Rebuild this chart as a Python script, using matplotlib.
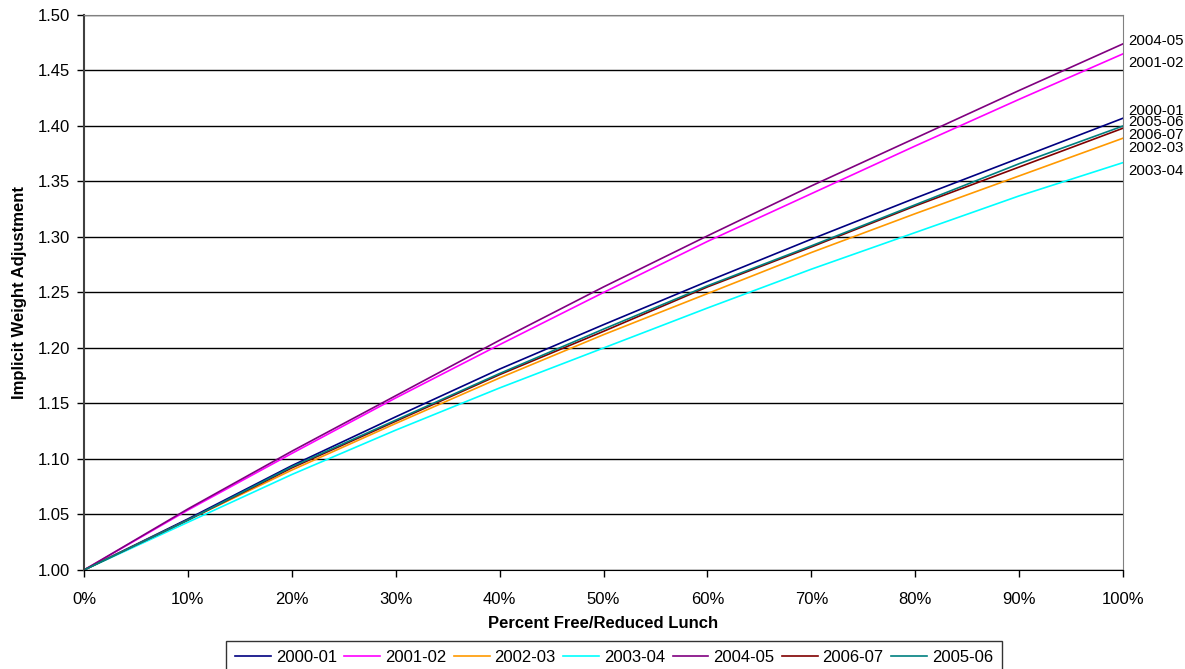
import matplotlib
matplotlib.use("Agg")
import matplotlib.pyplot as plt
from matplotlib.ticker import FuncFormatter, MultipleLocator

plt.rcParams["font.family"] = ["Liberation Sans", "DejaVu Sans"]

pct = [0, 10, 20, 30, 40, 50, 60, 70, 80, 90, 100]

y_2000_01 = [1.000, 1.046, 1.094, 1.138, 1.181, 1.221, 1.260, 1.298, 1.335, 1.371, 1.407]
y_2001_02 = [1.000, 1.054, 1.105, 1.155, 1.203, 1.250, 1.296, 1.339, 1.382, 1.424, 1.465]
y_2002_03 = [1.000, 1.045, 1.090, 1.132, 1.173, 1.212, 1.249, 1.286, 1.321, 1.355, 1.389]
y_2003_04 = [1.000, 1.043, 1.086, 1.126, 1.164, 1.200, 1.236, 1.271, 1.304, 1.337, 1.367]
y_2004_05 = [1.000, 1.055, 1.107, 1.157, 1.207, 1.255, 1.301, 1.346, 1.389, 1.432, 1.474]
y_2006_07 = [1.000, 1.045, 1.092, 1.134, 1.176, 1.215, 1.255, 1.291, 1.328, 1.363, 1.398]
y_2005_06 = [1.000, 1.045, 1.093, 1.135, 1.177, 1.217, 1.256, 1.292, 1.329, 1.366, 1.400]

series = [
    ("2000-01", y_2000_01, "#000080"),
    ("2001-02", y_2001_02, "#FF00FF"),
    ("2002-03", y_2002_03, "#FF9900"),
    ("2003-04", y_2003_04, "#00FFFF"),
    ("2004-05", y_2004_05, "#800080"),
    ("2006-07", y_2006_07, "#800000"),
    ("2005-06", y_2005_06, "#008080"),
]

# end labels on the right (placed by hand in the original)
end_labels = ["2004-05", "2001-02", "2000-01", "2005-06", "2006-07", "2002-03", "2003-04"]
end_label_y = [1.478, 1.458, 1.4145, 1.4048, 1.3934, 1.3813, 1.361]

fig = plt.figure(figsize=(11.85, 6.69), dpi=100)
ax = fig.add_axes([0.0709, 0.148, 0.8768, 0.8296])

for label, ys, col in series:
    ax.plot(pct, ys, color=col, linewidth=1.2, label=label)

ax.set_xlim(0, 100)
ax.set_ylim(1.0, 1.5)
ax.xaxis.set_major_locator(MultipleLocator(10))
ax.yaxis.set_major_locator(MultipleLocator(0.05))
ax.xaxis.set_major_formatter(FuncFormatter(lambda v, p: "%d%%" % v))
ax.yaxis.set_major_formatter(FuncFormatter(lambda v, p: "%.2f" % v))
ax.yaxis.grid(True, color="black", linewidth=1.0)
ax.set_axisbelow(True)
ax.tick_params(axis="both", direction="out", length=5, width=1, labelsize=12, pad=5)
ax.tick_params(axis="x", pad=11)

ax.spines["top"].set_color("#808080")
ax.spines["right"].set_color("#808080")
ax.spines["left"].set_color("#404040")
ax.spines["left"].set_linewidth(1.5)
ax.spines["bottom"].set_color("black")

ax.set_xlabel("Percent Free/Reduced Lunch", fontsize=12, fontweight="bold", labelpad=6)
ax.set_ylabel("Implicit Weight Adjustment", fontsize=12, fontweight="bold", labelpad=8)

for txt, yy in zip(end_labels, end_label_y):
    ax.text(100.5, yy, txt, fontsize=10.8, va="center_baseline", ha="left", clip_on=False)

leg = fig.legend(loc="upper center", bbox_to_anchor=(614 / 1185, 1 - 641 / 669), ncol=7,
                 fontsize=12, frameon=True, fancybox=False, edgecolor="black",
                 handlelength=2.15, handletextpad=0.28, columnspacing=0.46,
                 borderpad=0.55, borderaxespad=0)
leg.get_frame().set_linewidth(1.0)

fig.savefig("out.png", dpi=100)
